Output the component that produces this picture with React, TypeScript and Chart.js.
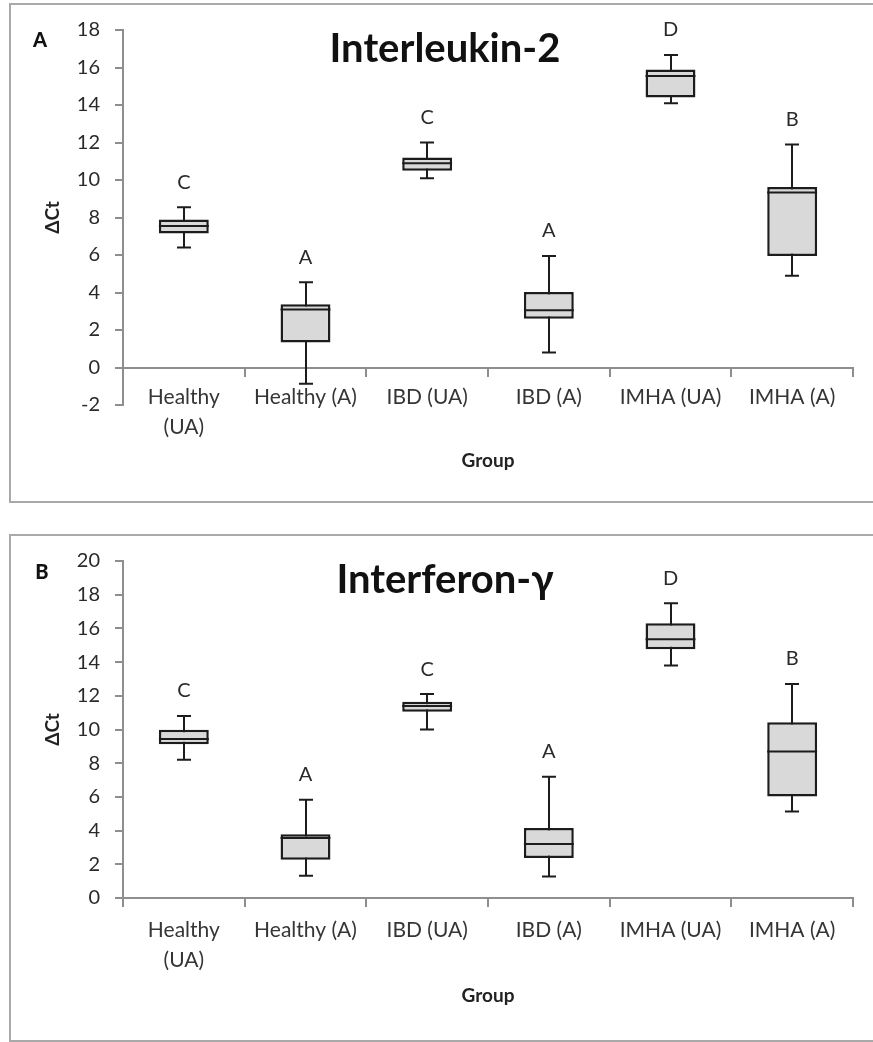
import { useEffect, useRef } from 'react';
import { Chart, registerables } from 'chart.js';

Chart.register(...registerables);
Chart.defaults.font.family = "Lato, 'Open Sans', 'Noto Sans', sans-serif";

// Categories on the x axis
const groups: (string | string[])[] = [
  ['Healthy', '(UA)'],
  'Healthy (A)',
  'IBD (UA)',
  'IBD (A)',
  'IMHA (UA)',
  'IMHA (A)',
];

// Interleukin-2 ΔCt box-plot statistics
const il2Min = [6.4, -0.87, 10.1, 0.8, 14.1, 4.9];
const il2Q1 = [7.15, 1.33, 10.5, 2.6, 14.4, 5.95];
const il2Median = [7.55, 3.1, 10.9, 3.05, 15.55, 9.33];
const il2Q3 = [7.9, 3.37, 11.2, 4.03, 15.9, 9.63];
const il2Max = [8.55, 4.55, 12.0, 5.95, 16.67, 11.9];
const il2Letters = ['C', 'A', 'C', 'A', 'D', 'B'];

// Interferon-γ ΔCt box-plot statistics
const ifnMin = [8.2, 1.32, 10.0, 1.28, 13.8, 5.13];
const ifnQ1 = [9.13, 2.27, 11.06, 2.37, 14.76, 6.02];
const ifnMedian = [9.44, 3.56, 11.4, 3.2, 15.35, 8.69];
const ifnQ3 = [9.98, 3.79, 11.65, 4.15, 16.3, 10.43];
const ifnMax = [10.8, 5.83, 12.1, 7.2, 17.49, 12.7];
const ifnLetters = ['C', 'A', 'C', 'A', 'D', 'B'];

const AXIS_GRAY = '#8e8e8e';
const BOX_EDGE = '#1c1c1c';
const BOX_FILL = '#d9d9d9';
const TEXT = '#2a2a2a';

type PanelSpec = {
  title: string;
  tag: string;
  min: number[];
  q1: number[];
  median: number[];
  q3: number[];
  max: number[];
  letters: string[];
  yMin: number;
  yMax: number;
  width: number;
  height: number;
  padTop: number;
  padBottom: number;
  titleX: number;
  titleBaseline: number;
  tagX: number;
  tagY: number;
  tickPad: number;
  groupPad: number;
};

function makeDecorPlugin(spec: PanelSpec) {
  return {
    id: 'boxDecor',
    // whiskers sit behind the boxes
    beforeDatasetsDraw(chart: any) {
      const { ctx, scales } = chart;
      const x = scales.x;
      const y = scales.y;
      const cap = 14;
      ctx.save();
      ctx.strokeStyle = BOX_EDGE;
      ctx.lineWidth = 2;
      spec.min.forEach((lo, i) => {
        const cx = Math.round(x.getPixelForValue(i));
        const yLo = y.getPixelForValue(lo);
        const yHi = y.getPixelForValue(spec.max[i]);
        ctx.beginPath();
        ctx.moveTo(cx, yLo);
        ctx.lineTo(cx, yHi);
        ctx.moveTo(cx - cap / 2, yLo);
        ctx.lineTo(cx + cap / 2, yLo);
        ctx.moveTo(cx - cap / 2, yHi);
        ctx.lineTo(cx + cap / 2, yHi);
        ctx.stroke();
      });
      ctx.restore();
    },
    // median lines and significance letters
    afterDatasetsDraw(chart: any) {
      const { ctx, scales } = chart;
      const x = scales.x;
      const y = scales.y;
      const bars = chart.getDatasetMeta(0).data;
      ctx.save();
      ctx.strokeStyle = BOX_EDGE;
      ctx.lineWidth = 2;
      spec.median.forEach((m, i) => {
        const cx = x.getPixelForValue(i);
        const half = bars[i].width / 2;
        const my = y.getPixelForValue(m);
        ctx.beginPath();
        ctx.moveTo(cx - half, my);
        ctx.lineTo(cx + half, my);
        ctx.stroke();
      });
      ctx.fillStyle = TEXT;
      ctx.textAlign = 'center';
      ctx.textBaseline = 'middle';
      ctx.font = "20px Lato, 'Open Sans', sans-serif";
      spec.letters.forEach((t, i) => {
        const cx = x.getPixelForValue(i);
        const top = y.getPixelForValue(spec.max[i]);
        ctx.fillText(t, cx, top - 25);
      });
      ctx.restore();
    },
    afterDraw(chart: any) {
      const { ctx } = chart;
      ctx.save();
      ctx.fillStyle = '#111';
      ctx.textAlign = 'center';
      ctx.textBaseline = 'alphabetic';
      ctx.font = "bold 40px Lato, 'Open Sans', sans-serif";
      ctx.fillText(spec.title, spec.titleX, spec.titleBaseline);
      ctx.textBaseline = 'middle';
      ctx.font = "900 20px Lato, 'Open Sans', sans-serif";
      ctx.fillText(spec.tag, spec.tagX, spec.tagY);
      ctx.restore();
    },
  };
}

function BoxPanel({ spec }: { spec: PanelSpec }) {
  const ref = useRef<HTMLCanvasElement | null>(null);

  useEffect(() => {
    const canvas = ref.current;
    if (!canvas) return;
    const chart = new Chart(canvas, {
      type: 'bar',
      data: {
        labels: groups,
        datasets: [
          {
            data: spec.q1.map((v, i) => [v, spec.q3[i]]) as any,
            backgroundColor: BOX_FILL,
            borderColor: BOX_EDGE,
            borderWidth: 2.5,
            borderSkipped: false,
            categoryPercentage: 1,
            barPercentage: 0.41,
          },
        ],
      },
      options: {
        animation: false,
        responsive: false,
        maintainAspectRatio: false,
        layout: { padding: { left: 30, right: 20, top: spec.padTop, bottom: spec.padBottom } },
        plugins: {
          legend: { display: false },
          tooltip: { enabled: false },
        },
        scales: {
          x: {
            type: 'category',
            position: { y: 0 } as any,
            offset: true,
            grid: {
              offset: true,
              drawOnChartArea: false,
              tickLength: 8,
              color: AXIS_GRAY,
              lineWidth: 2,
            },
            border: { color: AXIS_GRAY, width: 2 },
            ticks: {
              color: '#353535',
              font: { size: 21, lineHeight: 1.43 },
              padding: spec.tickPad,
              maxRotation: 0,
              autoSkip: false,
            },
            title: {
              display: true,
              text: 'Group',
              color: '#222',
              font: { size: 19, weight: 'bold' },
              padding: { top: spec.groupPad, bottom: 0 },
            },
          },
          y: {
            min: spec.yMin,
            max: spec.yMax,
            ticks: { stepSize: 2, padding: 15, color: TEXT, font: { size: 20 } },
            grid: { drawOnChartArea: false, tickLength: 8, color: AXIS_GRAY, lineWidth: 2 },
            border: { color: AXIS_GRAY, width: 2 },
            title: {
              display: true,
              text: 'ΔCt',
              color: '#222',
              font: { size: 19, weight: 'bold' },
              padding: { top: 11, bottom: 0 },
            },
            afterFit: (scale: any) => {
              scale.width = 93;
            },
          },
        },
      },
      plugins: [makeDecorPlugin(spec)],
    });
    return () => chart.destroy();
  }, [spec]);

  return <canvas ref={ref} width={spec.width} height={spec.height} style={{ display: 'block' }} />;
}

const il2Spec: PanelSpec = {
  title: 'Interleukin-2',
  tag: 'A',
  min: il2Min,
  q1: il2Q1,
  median: il2Median,
  q3: il2Q3,
  max: il2Max,
  letters: il2Letters,
  yMin: -2,
  yMax: 18,
  width: 873,
  height: 505,
  padTop: 30,
  padBottom: 100,
  titleX: 445,
  titleBaseline: 62,
  tagX: 40,
  tagY: 41,
  tickPad: 7,
  groupPad: 0,
};

const ifnSpec: PanelSpec = {
  title: 'Interferon-γ',
  tag: 'B',
  min: ifnMin,
  q1: ifnQ1,
  median: ifnMedian,
  q3: ifnQ3,
  max: ifnMax,
  letters: ifnLetters,
  yMin: 0,
  yMax: 20,
  width: 873,
  height: 522,
  padTop: 41,
  padBottom: 144,
  titleX: 445,
  titleBaseline: 73,
  tagX: 42,
  tagY: 53,
  tickPad: 9,
  groupPad: 0,
};

export default function App() {
  const frame = {
    position: 'absolute' as const,
    left: 9,
    width: 880,
    border: '2px solid #a9a9a9',
    boxSizing: 'border-box' as const,
    background: '#fff',
  };
  return (
    <div style={{ position: 'absolute', left: 0, top: 0, width: 873, height: 1042, overflow: 'hidden', background: '#fff' }}>
      <div style={{ ...frame, top: 3, height: 500 }} />
      <div style={{ ...frame, top: 534, height: 508 }} />
      <div style={{ position: 'absolute', left: 0, top: 0 }}>
        <BoxPanel spec={il2Spec} />
      </div>
      <div style={{ position: 'absolute', left: 0, top: 520 }}>
        <BoxPanel spec={ifnSpec} />
      </div>
    </div>
  );
}
